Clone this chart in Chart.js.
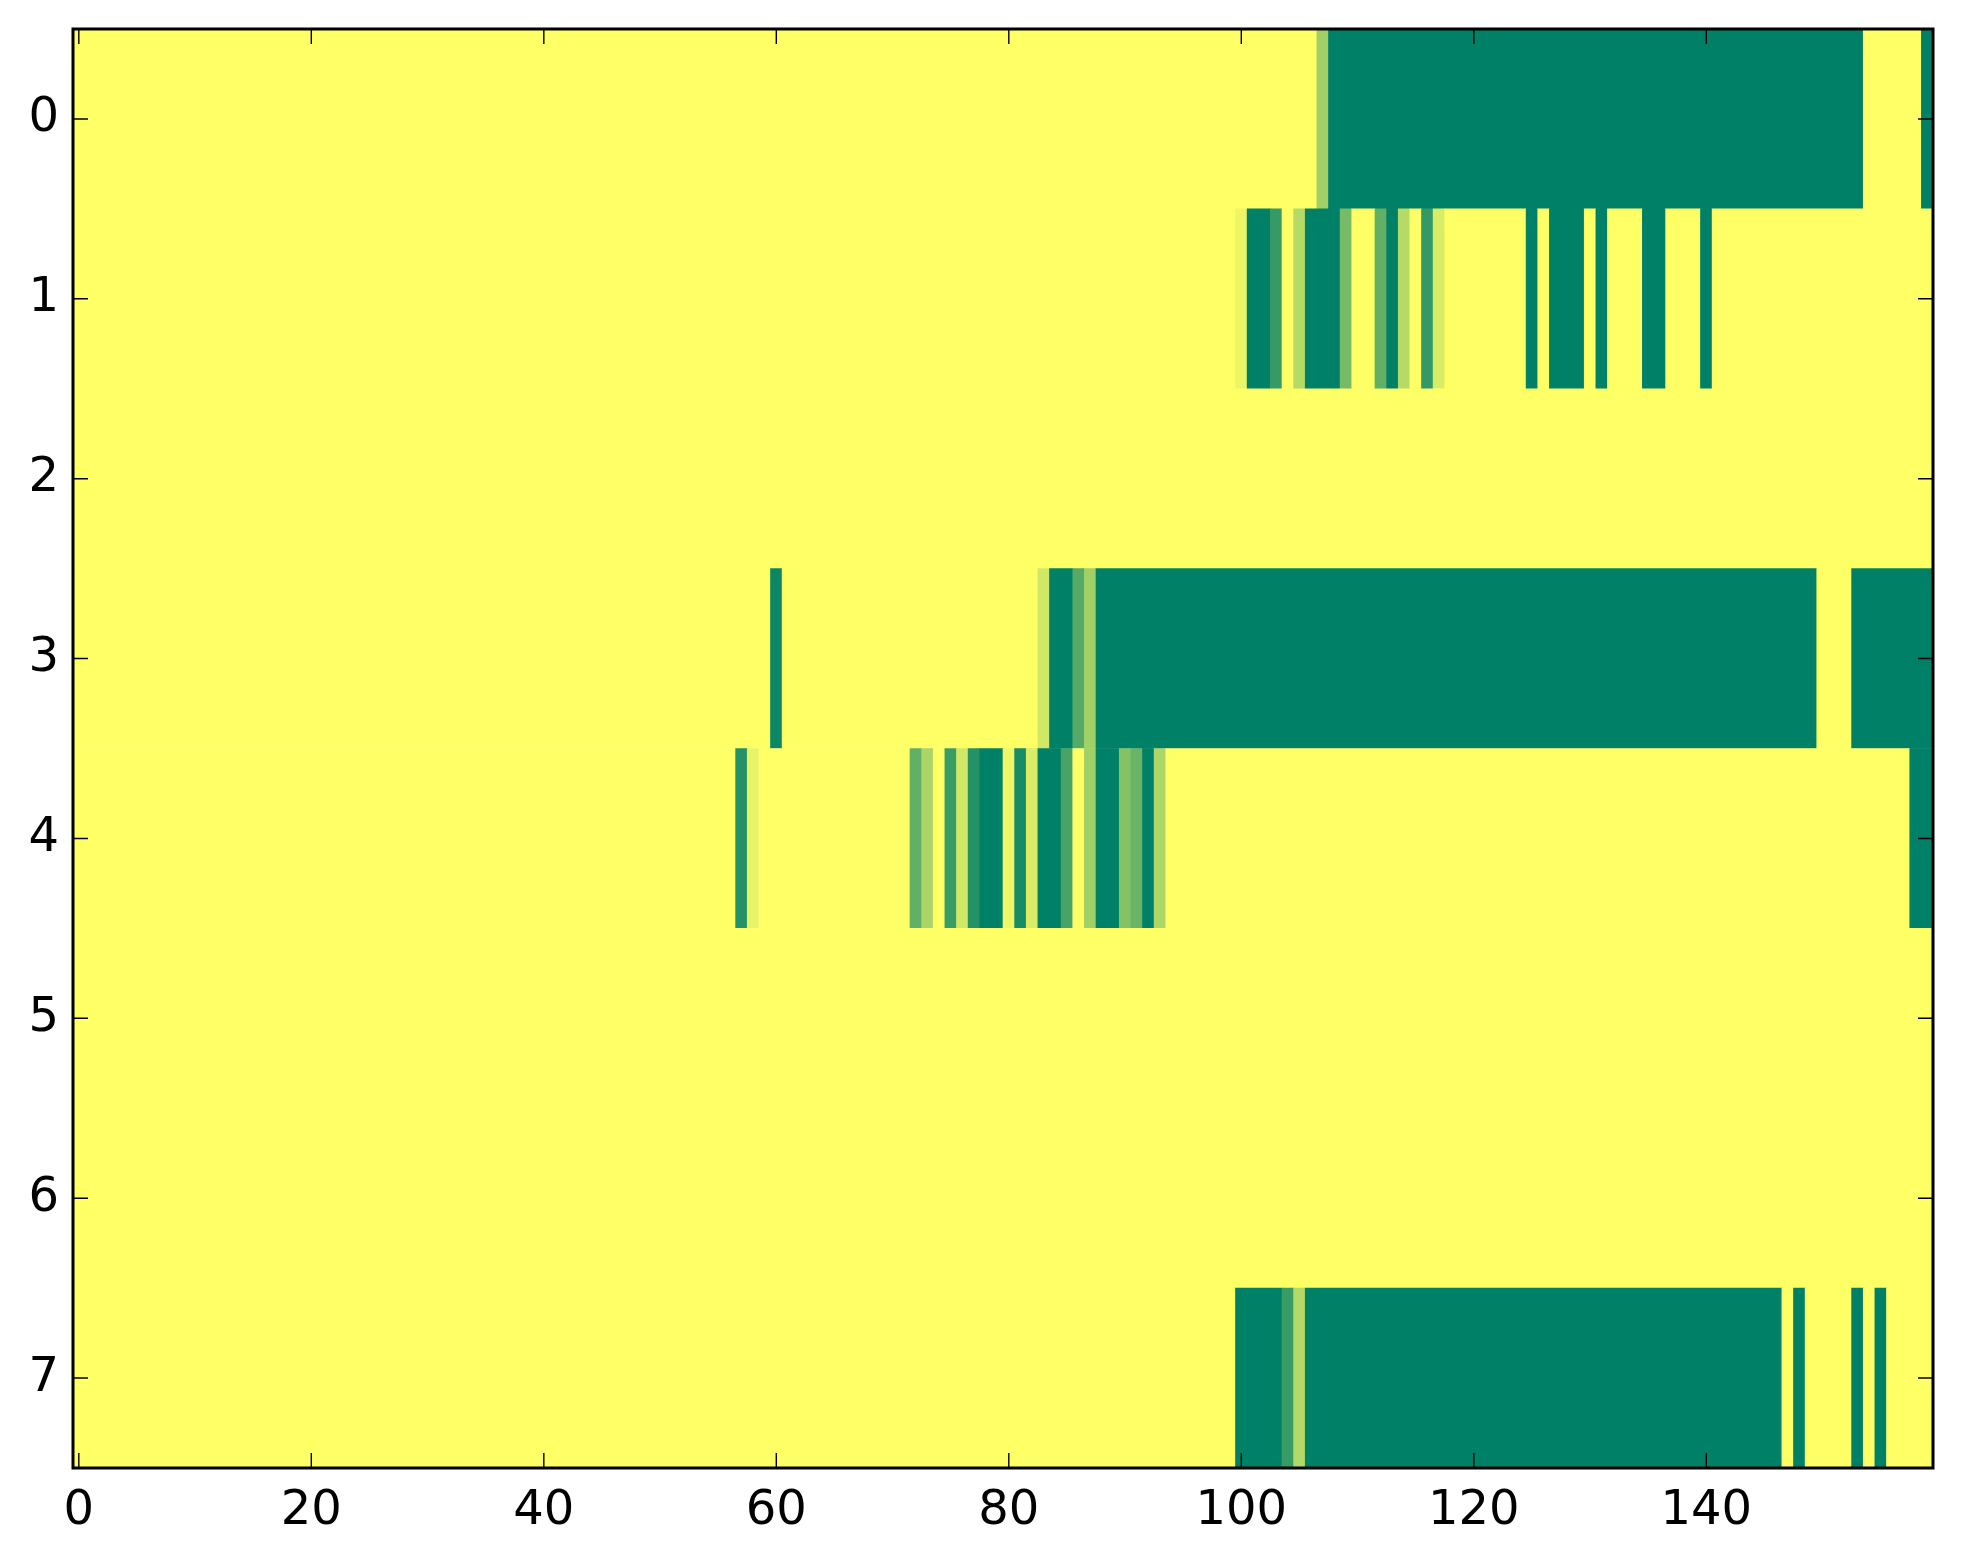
<!DOCTYPE html>
<html>
<head>
<meta charset="utf-8">
<title>heatmap</title>
<script src="https://cdn.jsdelivr.net/npm/chart.js@4.4.1/dist/chart.umd.min.js"></script>
<style>
  html, body { margin: 0; padding: 0; background: #fff; }
  #wrap { width: 1963px; height: 1564px; position: relative; }
</style>
</head>
<body>
<div id="wrap"><canvas id="heatChart"></canvas></div>
<script>
// Rows (top to bottom) and x tick labels
var rowLabels = ['0', '1', '2', '3', '4', '5', '6', '7'];
var xTicks = [0, 20, 40, 60, 80, 100, 120, 140];

// Each row as runs of [value, cell count], left to right (160 cells per row)
var row0 = [[0, 107], [0.37, 1], [1, 46], [0, 5], [1, 1]];
var row1 = [[0, 100], [0.07, 1], [1, 2], [0.79, 1], [0, 1], [0.29, 1], [1, 3], [0.53, 1],
            [0, 2], [0.62, 1], [1, 1], [0.29, 1], [0, 1], [0.8, 1], [0.15, 1], [0, 7],
            [1, 1], [0, 1], [1, 3], [0, 1], [1, 1], [0, 3], [1, 2], [0, 3], [1, 1], [0, 19]];
var row2 = [[0, 160]];
var row3 = [[0, 60], [0.95, 1], [0, 22], [0.18, 1], [1, 2], [0.67, 1], [0.37, 1], [1, 62],
            [0, 3], [1, 7]];
var row4 = [[0, 57], [0.86, 1], [0.09, 1], [0, 13], [0.62, 1], [0.33, 1], [0, 1], [0.77, 1],
            [0.18, 1], [0.86, 1], [1, 2], [0.06, 1], [0.9, 1], [0.14, 1], [1, 2], [0.72, 1],
            [0, 1], [0.37, 1], [1, 2], [0.48, 1], [0.59, 1], [1, 1], [0.32, 1], [0, 64], [1, 2]];
var row5 = [[0, 160]];
var row6 = [[0, 160]];
var row7 = [[0, 100], [1, 4], [0.78, 1], [0.3, 1], [1, 41], [0, 1], [1, 1], [0, 4], [1, 1],
            [0, 1], [1, 1], [0, 4]];
var rows = [row0, row1, row2, row3, row4, row5, row6, row7];

// summer_r colour map: 0 -> yellow, 1 -> green
var summerR = function (v) {
    var t = 1 - v;
    return 'rgb(' + Math.round(255 * t) + ',' + Math.round(255 * (0.5 + 0.5 * t)) + ',102)';
};

// one floating bar per run
var cells = [];
for (var r = 0; r < rows.length; r++) {
    var col = 0;
    for (var i = 0; i < rows[r].length; i++) {
        var run = rows[r][i];
        cells.push({ y: rowLabels[r], x: [col - 0.5, col + run[1] - 0.5], v: run[0] });
        col += run[1];
    }
}

// frame and inward ticks on all four sides
var framePlugin = {
    id: 'frame',
    afterDraw: function (chart) {
        var a = chart.chartArea;
        var c = chart.ctx;
        var xs = chart.scales.x;
        var ys = chart.scales.y;
        var len = 15;
        c.save();
        c.strokeStyle = '#000';
        c.lineWidth = 1.4;
        c.beginPath();
        xTicks.forEach(function (v) {
            var px = xs.getPixelForValue(v);
            c.moveTo(px, a.bottom); c.lineTo(px, a.bottom - len);
            c.moveTo(px, a.top); c.lineTo(px, a.top + len);
        });
        rowLabels.forEach(function (l, k) {
            var py = ys.getPixelForValue(k);
            c.moveTo(a.left, py); c.lineTo(a.left + len, py);
            c.moveTo(a.right, py); c.lineTo(a.right - len, py);
        });
        c.stroke();
        c.lineWidth = 3;
        c.strokeRect(a.left, a.top, a.right - a.left, a.bottom - a.top);
        c.restore();
    }
};

var font = { family: 'DejaVu Sans', size: 48 };
var ctx = document.getElementById('heatChart').getContext('2d');

var chart = new Chart(ctx, {
    type: 'bar',
    data: {
        labels: rowLabels,
        datasets: [{
            data: cells,
            backgroundColor: function (c) { return summerR(c.raw.v); },
            borderWidth: 0,
            grouped: false,
            categoryPercentage: 1,
            barPercentage: 1
        }]
    },
    options: {
        indexAxis: 'y',
        responsive: true,
        maintainAspectRatio: false,
        animation: false,
        layout: { padding: { top: 29, right: 30, left: 0, bottom: 0 } },
        plugins: { legend: { display: false }, tooltip: { enabled: false } },
        scales: {
            x: {
                type: 'linear',
                min: -0.5,
                max: 159.5,
                grid: { display: false },
                border: { display: false },
                afterBuildTicks: function (s) {
                    s.ticks = xTicks.map(function (v) { return { value: v }; });
                },
                afterFit: function (s) { s.height = 96; },
                ticks: { font: font, color: '#000', padding: 7, maxRotation: 0, autoSkip: false }
            },
            y: {
                type: 'category',
                grid: { display: false },
                border: { display: false },
                afterFit: function (s) {
                    s.width = 73;
                    s.paddingTop = 0;
                    s.paddingBottom = 0;
                },
                ticks: { font: font, color: '#000', padding: 6 }
            }
        }
    },
    plugins: [framePlugin]
});
</script>
</body>
</html>
